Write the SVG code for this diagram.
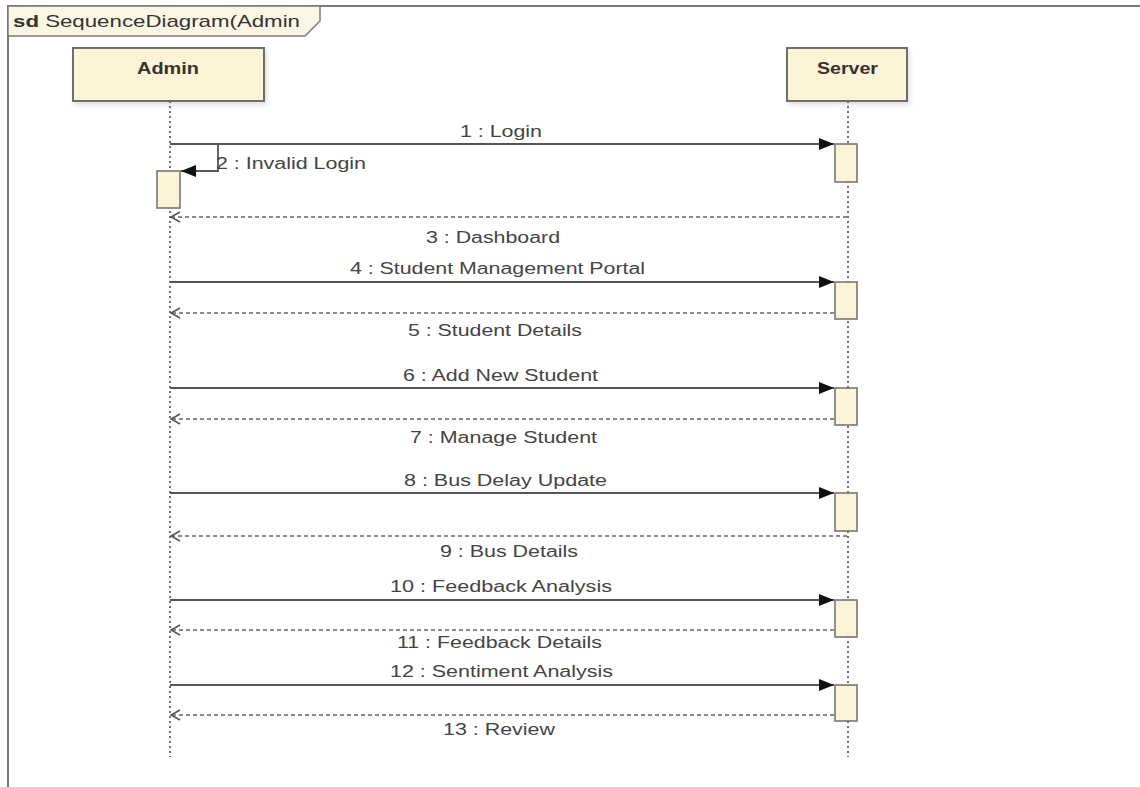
<svg xmlns="http://www.w3.org/2000/svg" width="1140" height="787" viewBox="0 0 1140 787">
  <style>
    .frame{fill:none;stroke:#7a7a7a;stroke-width:2}
    .tab{fill:#fbf6e4;stroke:#7a7a7a;stroke-width:1.5}
    .box{fill:#fdf3d6;stroke:#6e6e6e;stroke-width:2}
    .act{fill:#fdf3d6;stroke:#6e6e6e;stroke-width:1.5}
    .life{stroke:#444;stroke-width:1.5;stroke-dasharray:2 3;fill:none}
    .msg{stroke:#555;stroke-width:1.8;fill:none}
    .ret{stroke:#666;stroke-width:1.5;stroke-dasharray:4 3;fill:none}
    .lbl{font-family:"Liberation Sans",Arial,sans-serif;font-size:16px;fill:#444}
    .title{font-family:"Liberation Sans",Arial,sans-serif;font-size:17px;fill:#333;font-weight:bold}
  </style>
  <defs>
    <marker id="filled" markerWidth="16" markerHeight="12" refX="15" refY="6" orient="auto" markerUnits="userSpaceOnUse">
      <path d="M0,0 L15,6 L0,12 z" fill="#111"/>
    </marker>
    <marker id="open" markerWidth="12" markerHeight="12" refX="10" refY="6" orient="auto" markerUnits="userSpaceOnUse">
      <path d="M1,1 L10,6 L1,11" fill="none" stroke="#555" stroke-width="1.5"/>
    </marker>
    <filter id="sh" x="-10%" y="-10%" width="130%" height="140%">
      <feDropShadow dx="2" dy="3" stdDeviation="2" flood-color="#000" flood-opacity="0.12"/>
    </filter>
  </defs>

  <rect width="1140" height="787" fill="#fff"/>

  <g id="frame">
    <path class="frame" d="M8,787 V6 H1140"/>
    <path class="tab" d="M8,6 H320 V21 L305,36 H8 Z"/>
    <text x="13" y="27" class="lbl" style="fill:#333;font-size:17px" textLength="287" lengthAdjust="spacingAndGlyphs"><tspan font-weight="bold">sd</tspan> SequenceDiagram(Admin</text>
  </g>

  <g id="admin">
    <line class="life" x1="170" y1="101" x2="170" y2="757"/>
    <rect class="box" x="73" y="48" width="191" height="53" filter="url(#sh)"/>
    <text class="title" x="137" y="74" textLength="62" lengthAdjust="spacingAndGlyphs">Admin</text>
    <rect class="act" x="157" y="171" width="23" height="37"/>
  </g>

  <g id="server">
    <line class="life" x1="848" y1="101" x2="848" y2="757"/>
    <rect class="box" x="787" y="48" width="120" height="53" filter="url(#sh)"/>
    <text class="title" x="817" y="74" textLength="61" lengthAdjust="spacingAndGlyphs">Server</text>
    <rect class="act" x="835" y="144" width="22" height="38"/>
    <rect class="act" x="835" y="282" width="22" height="37"/>
    <rect class="act" x="835" y="388" width="22" height="37"/>
    <rect class="act" x="835" y="493" width="22" height="38"/>
    <rect class="act" x="835" y="600" width="22" height="37"/>
    <rect class="act" x="835" y="685" width="22" height="36"/>
  </g>

  <g id="connectors">
    <line class="msg" x1="170" y1="144" x2="834" y2="144" marker-end="url(#filled)"/>
    <polyline class="msg" points="170,144 218,144 218,171 181,171" marker-end="url(#filled)"/>
    <line class="ret" x1="847" y1="217" x2="171" y2="217" marker-end="url(#open)"/>
    <line class="msg" x1="170" y1="282" x2="834" y2="282" marker-end="url(#filled)"/>
    <line class="ret" x1="834" y1="313" x2="171" y2="313" marker-end="url(#open)"/>
    <line class="msg" x1="170" y1="388" x2="834" y2="388" marker-end="url(#filled)"/>
    <line class="ret" x1="834" y1="419" x2="171" y2="419" marker-end="url(#open)"/>
    <line class="msg" x1="170" y1="493" x2="834" y2="493" marker-end="url(#filled)"/>
    <line class="ret" x1="847" y1="536" x2="171" y2="536" marker-end="url(#open)"/>
    <line class="msg" x1="170" y1="600" x2="834" y2="600" marker-end="url(#filled)"/>
    <line class="ret" x1="834" y1="630" x2="171" y2="630" marker-end="url(#open)"/>
    <line class="msg" x1="170" y1="685" x2="834" y2="685" marker-end="url(#filled)"/>
    <line class="ret" x1="834" y1="715" x2="171" y2="715" marker-end="url(#open)"/>
  </g>

  <g id="labels">
    <text class="lbl" x="460" y="137" textLength="82" lengthAdjust="spacingAndGlyphs">1 : Login</text>
    <text class="lbl" x="216" y="169" textLength="150" lengthAdjust="spacingAndGlyphs">2 : Invalid Login</text>
    <text class="lbl" x="426" y="243" textLength="134" lengthAdjust="spacingAndGlyphs">3 : Dashboard</text>
    <text class="lbl" x="350" y="274" textLength="295" lengthAdjust="spacingAndGlyphs">4 : Student Management Portal</text>
    <text class="lbl" x="408" y="336" textLength="174" lengthAdjust="spacingAndGlyphs">5 : Student Details</text>
    <text class="lbl" x="403" y="381" textLength="195" lengthAdjust="spacingAndGlyphs">6 : Add New Student</text>
    <text class="lbl" x="410" y="443" textLength="187" lengthAdjust="spacingAndGlyphs">7 : Manage Student</text>
    <text class="lbl" x="404" y="486" textLength="203" lengthAdjust="spacingAndGlyphs">8 : Bus Delay Update</text>
    <text class="lbl" x="440" y="557" textLength="138" lengthAdjust="spacingAndGlyphs">9 : Bus Details</text>
    <text class="lbl" x="390" y="592" textLength="222" lengthAdjust="spacingAndGlyphs">10 : Feedback Analysis</text>
    <text class="lbl" x="397" y="648" textLength="205" lengthAdjust="spacingAndGlyphs">11 : Feedback Details</text>
    <text class="lbl" x="390" y="677" textLength="223" lengthAdjust="spacingAndGlyphs">12 : Sentiment Analysis</text>
    <text class="lbl" x="443" y="735" textLength="112" lengthAdjust="spacingAndGlyphs">13 : Review</text>
  </g>
</svg>
